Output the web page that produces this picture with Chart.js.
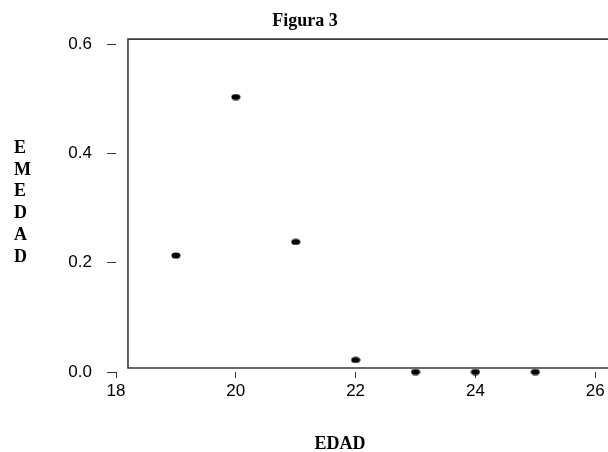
<!DOCTYPE html>
<html>
<head>
<meta charset="utf-8">
<script src="https://cdn.jsdelivr.net/npm/chart.js@4"></script>
<style>
  body { margin: 0; background: #fff; }
  #chart { width: 608px; height: 452px; }
</style>
</head>
<body>
<div id="chart"><canvas id="c"></canvas></div>
<script>
// data
const edad = [19, 20, 21, 22, 23, 24, 25];
const emedad = [0.213, 0.503, 0.238, 0.022, 0, 0, 0];
const xTicks = [18, 20, 22, 24, 26];
const yTicks = [0.0, 0.2, 0.4, 0.6];
const chartTitle = 'Figura 3';
const xTitle = 'EDAD';
const yTitle = 'EMEDAD';

// slightly flattened dots like the original
function makeDot() {
  const c = document.createElement('canvas');
  c.width = 10; c.height = 7;
  const g = c.getContext('2d');
  g.fillStyle = '#000';
  g.beginPath();
  g.ellipse(5, 3.5, 4.5, 3.1, 0, 0, Math.PI * 2);
  g.fill();
  return c;
}

const serif = '"Liberation Serif", "Times New Roman", serif';

const framePlugin = {
  id: 'frame',
  beforeDatasetsDraw(chart) {
    const { ctx, scales: { x, y } } = chart;
    const left = x.getPixelForValue(18.2);
    const top = y.getPixelForValue(0.609);
    const bottom = y.getPixelForValue(0.0073);
    ctx.save();
    ctx.strokeStyle = '#3a3a3a';
    ctx.lineWidth = 1.6;
    ctx.beginPath();
    ctx.moveTo(chart.width, top);
    ctx.lineTo(left, top);
    ctx.lineTo(left, bottom);
    ctx.lineTo(chart.width, bottom);
    ctx.stroke();
    ctx.restore();
  },
  afterDraw(chart) {
    const ctx = chart.ctx;
    ctx.save();
    ctx.fillStyle = '#000';
    ctx.textAlign = 'center';
    ctx.textBaseline = 'alphabetic';
    ctx.font = 'bold 18px ' + serif;
    ctx.fillText(chartTitle, 305, 26);
    ctx.fillText(xTitle, 340, 449);
    // vertical stacked letters on the left
    ctx.textAlign = 'left';
    ctx.font = 'bold 18px ' + serif;
    yTitle.split('').forEach((ch, i) => {
      ctx.fillText(ch, 14, 153 + i * 21.7);
    });
    ctx.restore();
  }
};

const tickFont = { family: '"Liberation Sans", Arial, sans-serif', size: 17 };

new Chart(document.getElementById('c'), {
  type: 'scatter',
  data: {
    datasets: [{
      data: edad.map((v, i) => ({ x: v, y: emedad[i] })),
      pointStyle: makeDot(),
      clip: false
    }]
  },
  options: {
    responsive: true,
    maintainAspectRatio: false,
    animation: false,
    layout: { padding: { top: 44, left: 0, right: 0, bottom: 0 } },
    plugins: {
      legend: { display: false },
      tooltip: { enabled: false }
    },
    scales: {
      x: {
        type: 'linear',
        min: 18,
        max: 26.13,
        afterBuildTicks: s => { s.ticks = xTicks.map(v => ({ value: v })); },
        afterFit: s => { s.height = 80; },
        grid: { drawOnChartArea: false, drawTicks: true, tickLength: 6, color: '#333' },
        border: { display: false },
        ticks: { color: '#000', font: tickFont, padding: 3, maxRotation: 0, callback: v => String(v) }
      },
      y: {
        min: 0,
        max: 0.6,
        afterBuildTicks: s => { s.ticks = yTicks.map(v => ({ value: v })); },
        afterFit: s => { s.width = 116; },
        grid: { drawOnChartArea: false, drawTicks: true, tickLength: 9, color: '#333' },
        border: { display: false },
        ticks: { color: '#000', font: tickFont, padding: 15, callback: v => v.toFixed(1) }
      }
    }
  },
  plugins: [framePlugin]
});
</script>
</body>
</html>
